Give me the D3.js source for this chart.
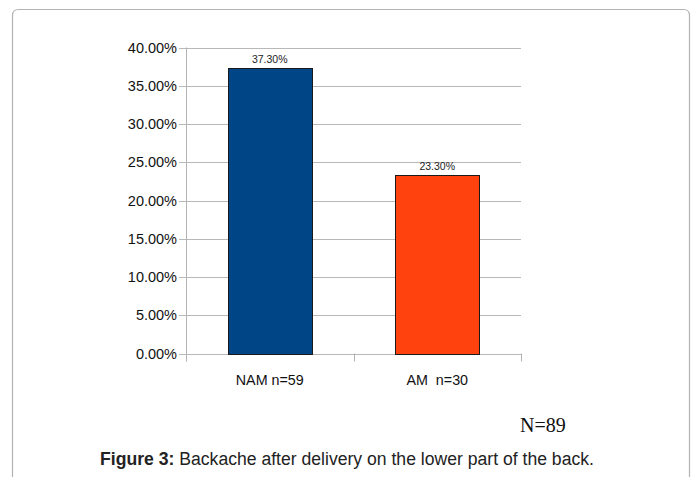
<!DOCTYPE html>
<html><head><meta charset="utf-8">
<script src="https://cdn.jsdelivr.net/npm/d3@7"></script>
<style>body{margin:0;background:#fff}svg{display:block}</style>
</head><body>
<script>
const categories = ["NAM n=59", "AM  n=30"];
const values = [37.3, 23.3];
const valueLabels = ["37.30%", "23.30%"];
const colors = ["#004586", "#ff420e"];
const yTicks = [0, 5, 10, 15, 20, 25, 30, 35, 40];
const footNote = "N=89";
const captionBold = "Figure 3:";
const captionText = " Backache after delivery on the lower part of the back.";

(function () {
const W = 697, H = 477;
const svg = d3.select("body").append("svg").attr("width", W).attr("height", H);

// frame
svg.append("path")
  .attr("d", `M12.5,${H+10} L12.5,15.5 Q12.5,9.5 18.5,9.5 L683.5,9.5 Q689.5,9.5 689.5,15.5 L689.5,${H+10}`)
  .attr("fill", "none").attr("stroke", "#b3b3b3").attr("stroke-width", 1.2);

const pL = 186, pR = 521, pT = 47.5, pB = 353.5;
const x = d3.scaleBand().domain(categories).range([pL, pR]).paddingInner(0.5).paddingOuter(0.25);
const y = d3.scaleLinear().domain([0, 40]).range([pB, pT]);

// gridlines
svg.append("g").selectAll("line").data(yTicks).join("line")
  .attr("x1", pL - 7).attr("x2", pR)
  .attr("y1", d => Math.round(y(d)) + 0.5).attr("y2", d => Math.round(y(d)) + 0.5)
  .attr("stroke", "#b8b8b8").attr("stroke-width", 1);

// y axis line
svg.append("line").attr("x1", pL + 0.5).attr("x2", pL + 0.5)
  .attr("y1", pT).attr("y2", pB + 8).attr("stroke", "#b3b3b3");

// y tick labels
svg.append("g").selectAll("text").data(yTicks).join("text")
  .attr("x", pL - 9).attr("y", d => y(d) + 5)
  .attr("text-anchor", "end").attr("font-family", "Liberation Sans, Arial, sans-serif")
  .attr("font-size", 14.5).attr("fill", "#111")
  .text(d => d.toFixed(2) + "%");

// x category ticks
const xTickPos = [pL, (pL + pR) / 2, pR];
svg.append("g").selectAll("line").data(xTickPos).join("line")
  .attr("x1", d => Math.round(d) + 0.5).attr("x2", d => Math.round(d) + 0.5)
  .attr("y1", pB).attr("y2", pB + 8).attr("stroke", "#b3b3b3");

// bars
svg.append("g").selectAll("rect").data(values).join("rect")
  .attr("x", (d, i) => Math.round(x(categories[i])) + 0.5)
  .attr("y", d => Math.round(y(d)) + 0.5)
  .attr("width", Math.round(x.bandwidth()))
  .attr("height", d => Math.round(pB) - Math.round(y(d)))
  .attr("fill", (d, i) => colors[i])
  .attr("stroke", "#1a1a1a").attr("stroke-width", 1);

// value labels
svg.append("g").selectAll("text").data(values).join("text")
  .attr("x", (d, i) => x(categories[i]) + x.bandwidth() / 2)
  .attr("y", d => y(d) - 5)
  .attr("text-anchor", "middle").attr("font-family", "Liberation Sans, Arial, sans-serif")
  .attr("font-size", 10.5).attr("fill", "#222")
  .text((d, i) => valueLabels[i]);

// category labels
svg.append("g").selectAll("text").data(categories).join("text")
  .attr("x", d => x(d) + x.bandwidth() / 2)
  .attr("y", 385)
  .attr("text-anchor", "middle").attr("font-family", "Liberation Sans, Arial, sans-serif")
  .attr("font-size", 14.3).attr("fill", "#111")
  .style("white-space", "pre")
  .text(d => d);

// N=89
svg.append("text").attr("x", 520).attr("y", 432)
  .attr("font-family", "Liberation Serif, Times New Roman, serif")
  .attr("font-size", 20).attr("fill", "#111").text(footNote);

// caption
const cap = svg.append("text").attr("x", 347).attr("y", 465)
  .attr("text-anchor", "middle").attr("font-family", "Liberation Sans, Arial, sans-serif")
  .attr("font-size", 17.6).attr("fill", "#222").style("white-space", "pre");
cap.append("tspan").attr("font-weight", "bold").text(captionBold);
cap.append("tspan").text(captionText);
})();
</script>
</body></html>
